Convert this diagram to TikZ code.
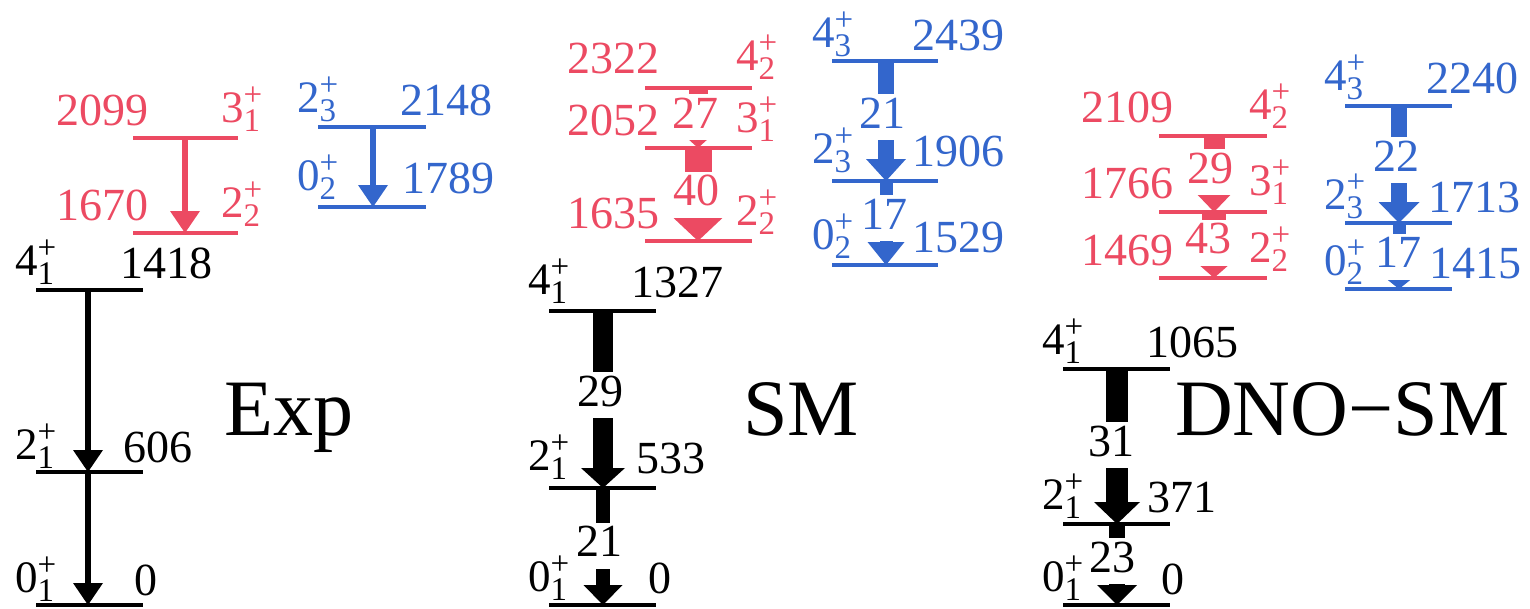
\documentclass[tikz,border=0pt]{standalone}
\usepackage{fontspec}
\setmainfont{Liberation Serif}
\usetikzlibrary{arrows.meta}
\definecolor{lred}{RGB}{236,74,98}
\definecolor{lblue}{RGB}{51,102,204}
\newcommand\enf{\fontsize{46}{46}\selectfont}
\newcommand\spf{\fontsize{45}{45}\selectfont}
\newcommand\scf{\fontsize{33}{33}\selectfont}
\newcommand\bigf{\fontsize{80}{80}\selectfont}
\newcommand\jpi[2]{{\spf #1}\rlap{\raisebox{17pt}{\scf +}}\raisebox{-9pt}{\scf #2}}
\tikzset{
  lvl/.style={line width=4.5pt, line cap=butt},
  en/.style={font=\enf, inner sep=0pt, anchor=base},
  enr/.style={font=\enf, inner sep=0pt, anchor=base east},
  spn/.style={inner sep=0pt, anchor=base west},
  tl/.style={font=\enf, fill=white, inner xsep=8pt, inner ysep=3pt, text height=31pt, text depth=9pt},
  gam/.style n args={3}{line width=#1, -{Triangle[width=#2, length=#3, line width=0pt]}},
  title/.style={font=\bigf, inner sep=0pt, anchor=base west},
}
\begin{document}
\begin{tikzpicture}[x=1pt,y=-1pt]
\useasboundingbox (0,0) rectangle (1530,608);

% ---------- coordinates on the levels ----------
% Exp
\coordinate (x4) at (88,290); \coordinate (x2) at (88,472); \coordinate (x0) at (88,605);
\coordinate (xr3) at (185,138); \coordinate (xr2) at (185,233);
\coordinate (xb2) at (373,127); \coordinate (xb0) at (373,207);
% SM
\coordinate (s4) at (603,311); \coordinate (s2) at (603,488); \coordinate (s0) at (603,605);
\coordinate (sr4) at (698,88); \coordinate (sr3) at (698,148); \coordinate (sr2) at (698,241);
\coordinate (sb4) at (886,61); \coordinate (sb2) at (886,181); \coordinate (sb0) at (886,265);
% DNO-SM
\coordinate (d4) at (1117,369); \coordinate (d2) at (1117,524); \coordinate (d0) at (1117,605);
\coordinate (dr4) at (1214,136); \coordinate (dr3) at (1214,212); \coordinate (dr2) at (1214,278);
\coordinate (db4) at (1399,106); \coordinate (db2) at (1399,223); \coordinate (db0) at (1399,289);

% ---------- transitions ----------
\draw[gam={6pt}{30pt}{22pt}] (x4) -- (x2);
\draw[gam={6pt}{30pt}{22pt}] (x2) -- (x0);
\draw[lred, gam={6pt}{30pt}{22pt}] (xr3) -- (xr2);
\draw[lblue, gam={6pt}{30pt}{22pt}] (xb2) -- (xb0);

\draw[gam={20pt}{44pt}{20pt}] (s4) -- (s2);
\draw[gam={14pt}{39pt}{20pt}] (s2) -- (s0);
\draw[lred, gam={19pt}{44pt}{20pt}] (sr4) -- (sr3);
\draw[lred, gam={27pt}{51pt}{24pt}] (sr3) -- (sr2);
\draw[lblue, gam={16pt}{40pt}{22pt}] (sb4) -- (sb2);
\draw[lblue, gam={13pt}{37pt}{23pt}] (sb2) -- (sb0);

\draw[gam={22pt}{46pt}{22pt}] (d4) -- (d2);
\draw[gam={16pt}{40pt}{20pt}] (d2) -- (d0);
\draw[lred, gam={21pt}{46pt}{24pt}] (dr4) -- (dr3);
\draw[lred, gam={24pt}{50pt}{22pt}] (dr3) -- (dr2);
\draw[lblue, gam={16pt}{41pt}{21pt}] (db4) -- (db2);
\draw[lblue, gam={13pt}{40pt}{16pt}] (db2) -- (db0);

% ---------- transition labels ----------
\node[tl] (ts1) at (600,395) {29};
\node[tl] (ts2) at (599,545.5) {21};
\node[tl, text=lred] (ts3) at (695,117) {27};
\node[tl, text=lred] (ts4) at (696,194.5) {40};
\node[tl, text=lblue] (ts5) at (882,117) {21};
\node[tl, text=lblue] (ts6) at (884,218) {17};
\node[tl] (td1) at (1111,445) {31};
\node[tl] (td2) at (1112,561) {23};
\node[tl, text=lred] (td3) at (1210,172) {29};
\node[tl, text=lred] (td4) at (1208,242.5) {43};
\node[tl, text=lblue] (td5) at (1396,160) {22};
\node[tl, text=lblue] (td6) at (1398,256.5) {17};

% ---------- levels ----------
\draw[lvl] (36,290) -- (143,290);
\draw[lvl] (36,472) -- (143,472);
\draw[lvl] (36,605) -- (143,605);
\draw[lvl, lred] (133,138) -- (238,138);
\draw[lvl, lred] (133,233) -- (238,233);
\draw[lvl, lblue] (318,127) -- (426,127);
\draw[lvl, lblue] (318,207) -- (426,207);

\draw[lvl] (549,311) -- (656,311);
\draw[lvl] (549,488) -- (656,488);
\draw[lvl] (549,605) -- (656,605);
\draw[lvl, lred] (645,88) -- (752,88);
\draw[lvl, lred] (645,148) -- (752,148);
\draw[lvl, lred] (645,241) -- (752,241);
\draw[lvl, lblue] (832,61) -- (938,61);
\draw[lvl, lblue] (832,181) -- (938,181);
\draw[lvl, lblue] (832,265) -- (938,265);

\draw[lvl] (1063,369) -- (1170,369);
\draw[lvl] (1063,524) -- (1170,524);
\draw[lvl] (1063,605) -- (1170,605);
\draw[lvl, lred] (1159,136) -- (1267,136);
\draw[lvl, lred] (1159,212) -- (1267,212);
\draw[lvl, lred] (1159,278) -- (1267,278);
\draw[lvl, lblue] (1345,106) -- (1452,106);
\draw[lvl, lblue] (1345,223) -- (1452,223);
\draw[lvl, lblue] (1345,289) -- (1452,289);

% ---------- energies ----------
\node[en] (ex1) at (166,278) {1418};
\node[en] (ex2) at (157.5,462) {606};
\node[en] (ex3) at (146,595) {0};
\node[enr, text=lred] (ex4) at (148.5,125) {2099};
\node[enr, text=lred] (ex5) at (148.5,220) {1670};
\node[en, text=lblue] (ex6) at (446.5,115) {2148};
\node[en, text=lblue] (ex7) at (448,193) {1789};

\node[en] (es1) at (677.5,297) {1327};
\node[en] (es2) at (671,473) {533};
\node[en] (es3) at (660,593) {0};
\node[enr, text=lred] (es4) at (659.5,73) {2322};
\node[enr, text=lred] (es5) at (659.5,135) {2052};
\node[enr, text=lred] (es6) at (659.5,228) {1635};
\node[en, text=lblue] (es7) at (958.5,50) {2439};
\node[en, text=lblue] (es8) at (958.5,166) {1906};
\node[en, text=lblue] (es9) at (958.5,252) {1529};

\node[en] (ed1) at (1192,357) {1065};
\node[en] (ed2) at (1182,512) {371};
\node[en] (ed3) at (1172.5,594) {0};
\node[enr, text=lred] (ed4) at (1173.5,122) {2109};
\node[enr, text=lred] (ed5) at (1173.5,198) {1766};
\node[enr, text=lred] (ed6) at (1173.5,265) {1469};
\node[en, text=lblue] (ed7) at (1472,93) {2240};
\node[en, text=lblue] (ed8) at (1474,212) {1713};
\node[en, text=lblue] (ed9) at (1475,278) {1415};

% ---------- spins ----------
\node[spn] (jx1) at (15,275) {\jpi{4}{1}};
\node[spn] (jx2) at (15,459) {\jpi{2}{1}};
\node[spn] (jx3) at (15,592) {\jpi{0}{1}};
\node[spn, text=lred] (jx4) at (221,122) {\jpi{3}{1}};
\node[spn, text=lred] (jx5) at (221,217) {\jpi{2}{2}};
\node[spn, text=lblue] (jx6) at (297,112) {\jpi{2}{3}};
\node[spn, text=lblue] (jx7) at (297,190) {\jpi{0}{2}};

\node[spn] (js1) at (528,294) {\jpi{4}{1}};
\node[spn] (js2) at (528,470) {\jpi{2}{1}};
\node[spn] (js3) at (528,591) {\jpi{0}{1}};
\node[spn, text=lred] (js4) at (736,70) {\jpi{4}{2}};
\node[spn, text=lred] (js5) at (736,132) {\jpi{3}{1}};
\node[spn, text=lred] (js6) at (736,225) {\jpi{2}{2}};
\node[spn, text=lblue] (js7) at (812,47) {\jpi{4}{3}};
\node[spn, text=lblue] (js8) at (812,163) {\jpi{2}{3}};
\node[spn, text=lblue] (js9) at (812,249) {\jpi{0}{2}};

\node[spn] (jd1) at (1042,354) {\jpi{4}{1}};
\node[spn] (jd2) at (1042,509) {\jpi{2}{1}};
\node[spn] (jd3) at (1042,591) {\jpi{0}{1}};
\node[spn, text=lred] (jd4) at (1249,119) {\jpi{4}{2}};
\node[spn, text=lred] (jd5) at (1249,195) {\jpi{3}{1}};
\node[spn, text=lred] (jd6) at (1249,262) {\jpi{2}{2}};
\node[spn, text=lblue] (jd7) at (1324,90) {\jpi{4}{3}};
\node[spn, text=lblue] (jd8) at (1324,209) {\jpi{2}{3}};
\node[spn, text=lblue] (jd9) at (1324,275) {\jpi{0}{2}};

% ---------- titles ----------
\node[title] (tExp) at (224,435) {Exp};
\node[title] (tSM) at (743,435) {SM};
\node[title] (tDNO) at (1175,435) {DNO−SM};
\end{tikzpicture}
\end{document}
